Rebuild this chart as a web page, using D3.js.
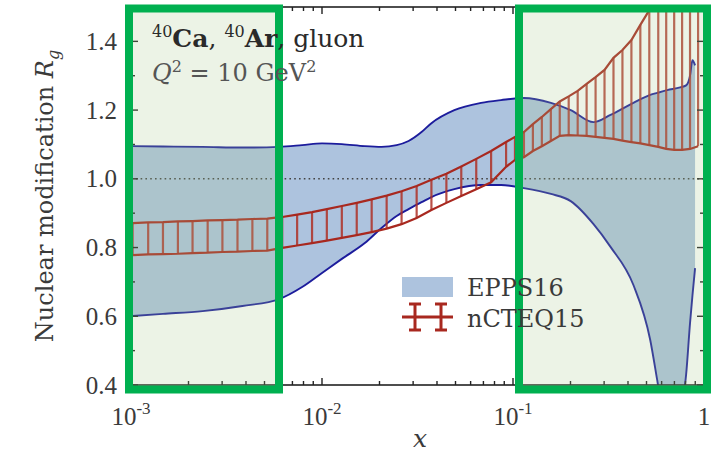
<!DOCTYPE html>
<html><head><meta charset="utf-8">
<script src="https://cdn.jsdelivr.net/npm/d3@7"></script>
<style>body{margin:0;background:#fff}svg{display:block}</style>
</head><body>
<svg id="c" width="720" height="456"></svg>
<script>
// ---- data ----
const xTickVals = [1e-3, 1e-2, 1e-1, 1];
const xTickBase = ["10", "10", "10", "1"];
const xTickExp = ["-3", "-2", "-1", ""];
const yTickVals = [0.4, 0.6, 0.8, 1.0, 1.2, 1.4];
const yTickLabels = ["0.4", "0.6", "0.8", "1.0", "1.2", "1.4"];

const eppsX  = [0.00102,0.00147,0.00237,0.00383,0.00597,0.00787,0.0100,0.0127,0.01675,0.0205,0.0246,0.0284,0.0332,0.0374,0.0493,0.0681,0.0866,0.114,0.158,0.2005,0.264,0.324,0.427,0.523,0.569,0.642,0.750,0.806,0.845,0.870,0.898];
const eppsUp = [1.095,1.094,1.093,1.091,1.093,1.098,1.103,1.101,1.095,1.093,1.098,1.110,1.136,1.162,1.200,1.221,1.229,1.235,1.221,1.200,1.165,1.186,1.221,1.244,1.250,1.258,1.266,1.272,1.300,1.345,1.330];
const eppsLo = [0.601,0.607,0.615,0.630,0.650,0.685,0.726,0.767,0.813,0.857,0.892,0.912,0.932,0.947,0.970,0.982,0.982,0.973,0.956,0.935,0.868,0.802,0.691,0.531,0.414,0.240,0.320,0.430,0.580,0.660,0.740];

const nctX  = [0.00102,0.00123,0.00147,0.00176,0.00210,0.00252,0.00301,0.00361,0.00432,0.00517,0.00619,0.00741,0.00887,0.0106,0.0127,0.0152,0.0182,0.0218,0.0261,0.0313,0.0374,0.0448,0.0536,0.0642,0.0768,0.0920,0.1024,0.1141,0.1271,0.1416,0.1578,0.1757,0.1957,0.2181,0.2429,0.2706,0.3014,0.3358,0.3741,0.4168,0.4642,0.5171,0.5761,0.634,0.698,0.768,0.845,0.931];
const nctUp = [0.871,0.873,0.874,0.876,0.877,0.879,0.880,0.881,0.883,0.884,0.889,0.896,0.903,0.912,0.921,0.930,0.940,0.951,0.964,0.979,0.997,1.015,1.036,1.058,1.081,1.107,1.122,1.136,1.159,1.180,1.203,1.225,1.240,1.256,1.276,1.296,1.317,1.352,1.375,1.404,1.448,1.491,1.526,1.555,1.584,1.614,1.643,1.672];
const nctLo = [0.778,0.780,0.781,0.782,0.784,0.785,0.787,0.788,0.790,0.791,0.799,0.806,0.813,0.820,0.828,0.836,0.845,0.855,0.868,0.886,0.909,0.930,0.950,0.970,0.990,1.035,1.055,1.063,1.081,1.095,1.110,1.125,1.127,1.126,1.125,1.122,1.119,1.116,1.111,1.107,1.103,1.098,1.093,1.087,1.084,1.084,1.087,1.095];

const seriesNames = ["EPPS16", "nCTEQ15"];
// highlight boxes (x ranges)
const boxRanges = [[1e-3, 6e-3], [1e-1, 1]];

// ---- layout ----
const L = 131, R = 704, T = 7, B = 385;
const svg = d3.select("#c");
const x = d3.scaleLog().domain([1e-3, 1]).range([L, R]);
const y = d3.scaleLinear().domain([0.4, 1.5]).range([B, T]);

const serif = "'DejaVu Serif', serif";
const numFont = "'Liberation Serif', serif";
const txtCol = "#3a3a3a";

svg.append("defs").append("clipPath").attr("id", "clip")
  .append("rect").attr("x", L).attr("y", T).attr("width", R - L).attr("height", B - T);
const plot = svg.append("g").attr("clip-path", "url(#clip)");

// EPPS16 band
const epps = eppsX.map((v, i) => ({x: v, lo: eppsLo[i], hi: eppsUp[i]}));
plot.append("path").datum(epps)
  .attr("d", d3.area().x(d => x(d.x)).y0(d => y(d.lo)).y1(d => y(d.hi)).curve(d3.curveMonotoneX))
  .attr("fill", "#adc3de");
["lo", "hi"].forEach(k => {
  plot.append("path").datum(epps)
    .attr("d", d3.line().x(d => x(d.x)).y(d => y(d[k])).curve(d3.curveMonotoneX))
    .attr("fill", "none").attr("stroke", "#1c1c9c").attr("stroke-width", 1.9);
});

// dotted line at 1
plot.append("line").attr("x1", L).attr("x2", R).attr("y1", y(1)).attr("y2", y(1))
  .attr("stroke", "#444").attr("stroke-width", 1.6).attr("stroke-dasharray", "1.6,3.2");

// nCTEQ15 hatched band (error bars)
const nct = nctX.map((v, i) => ({x: v, lo: nctLo[i], hi: nctUp[i]}));
plot.selectAll("line.eb").data(nct).enter().append("line").attr("class", "eb")
  .attr("x1", d => x(d.x)).attr("x2", d => x(d.x))
  .attr("y1", d => y(d.lo)).attr("y2", d => y(d.hi))
  .attr("stroke", "#ae3026").attr("stroke-opacity", 0.85).attr("stroke-width", 2.2);
["lo", "hi"].forEach(k => {
  plot.append("path").datum(nct)
    .attr("d", d3.line().x(d => x(d.x)).y(d => y(d[k])))
    .attr("fill", "none").attr("stroke", "#a8281f").attr("stroke-width", 2.2);
});

// frame
svg.append("rect").attr("x", L).attr("y", T).attr("width", R - L).attr("height", B - T)
  .attr("fill", "none").attr("stroke", "#222").attr("stroke-width", 1.6);

// ticks (inward, mirrored)
const tg = svg.append("g").attr("stroke", "#222").attr("stroke-width", 1.4);
const xMinor = [];
[1e-3, 1e-2, 1e-1].forEach(dec => { for (let k = 2; k <= 9; k++) xMinor.push(dec * k); });
xTickVals.forEach(v => {
  tg.append("line").attr("x1", x(v)).attr("x2", x(v)).attr("y1", B).attr("y2", B - 7);
  tg.append("line").attr("x1", x(v)).attr("x2", x(v)).attr("y1", T).attr("y2", T + 7);
});
xMinor.forEach(v => {
  tg.append("line").attr("x1", x(v)).attr("x2", x(v)).attr("y1", B).attr("y2", B - 4);
  tg.append("line").attr("x1", x(v)).attr("x2", x(v)).attr("y1", T).attr("y2", T + 4);
});
const yMinor = [0.5, 0.7, 0.9, 1.1, 1.3];
yTickVals.forEach(v => {
  tg.append("line").attr("x1", L).attr("x2", L + 7).attr("y1", y(v)).attr("y2", y(v));
  tg.append("line").attr("x1", R).attr("x2", R - 7).attr("y1", y(v)).attr("y2", y(v));
});
yMinor.forEach(v => {
  tg.append("line").attr("x1", L).attr("x2", L + 4).attr("y1", y(v)).attr("y2", y(v));
  tg.append("line").attr("x1", R).attr("x2", R - 4).attr("y1", y(v)).attr("y2", y(v));
});

// highlight boxes
boxRanges.forEach((r, i) => {
  const x0 = i === 0 ? 129 : 519, x1 = i === 0 ? 279 : 707;
  svg.append("rect").attr("x", x0).attr("y", 8.5).attr("width", x1 - x0).attr("height", 381)
    .attr("fill", "rgb(170,200,142)").attr("fill-opacity", 0.22)
    .attr("stroke", "#00b050").attr("stroke-width", 8);
});

// tick labels
yTickVals.forEach((v, i) => {
  svg.append("text").attr("x", 117).attr("y", y(v) + 8.5).attr("text-anchor", "end")
    .attr("font-family", numFont).attr("font-size", 25).attr("fill", txtCol).text(yTickLabels[i]);
});
xTickVals.forEach((v, i) => {
  const t = svg.append("text").attr("x", x(v)).attr("y", 425).attr("text-anchor", "middle")
    .attr("font-family", numFont).attr("font-size", 25).attr("fill", txtCol);
  t.append("tspan").text(xTickBase[i]);
  if (xTickExp[i]) t.append("tspan").attr("dy", -11).attr("font-size", 17).text(xTickExp[i]);
});

// axis labels
svg.append("text").attr("x", 420).attr("y", 447).attr("text-anchor", "middle")
  .attr("font-family", serif).attr("font-style", "italic").attr("font-size", 25).attr("fill", txtCol).text("x");
const yl = svg.append("text").attr("transform", `translate(53,${(T + B) / 2}) rotate(-90)`)
  .attr("text-anchor", "middle").attr("font-family", serif).attr("font-size", 24).attr("fill", txtCol);
yl.append("tspan").text("Nuclear modification ");
yl.append("tspan").attr("font-style", "italic").text("R");
yl.append("tspan").attr("font-style", "italic").attr("font-size", 16).attr("dy", 6).text("g");

// annotation
const a1 = svg.append("text").attr("x", 152).attr("y", 47).attr("font-family", serif)
  .attr("font-size", 25).attr("fill", "#2a2a2a");
a1.append("tspan").attr("font-size", 16).attr("dy", -10).text("40");
a1.append("tspan").attr("font-weight", "bold").attr("dy", 10).text("Ca");
a1.append("tspan").text(", ");
a1.append("tspan").attr("font-size", 16).attr("dy", -10).text("40");
a1.append("tspan").attr("font-weight", "bold").attr("dy", 10).text("Ar");
a1.append("tspan").text(", gluon");

const a2 = svg.append("text").attr("x", 152).attr("y", 81).attr("font-family", serif)
  .attr("font-size", 24).attr("fill", "#555");
a2.append("tspan").attr("font-style", "italic").text("Q");
a2.append("tspan").attr("font-size", 16).attr("dy", -9).text("2");
a2.append("tspan").attr("dy", 9).text(" = 10 GeV");
a2.append("tspan").attr("font-size", 16).attr("dy", -9).text("2");

// legend
svg.append("rect").attr("x", 402).attr("y", 277).attr("width", 51).attr("height", 20).attr("fill", "#adc3de");
const lg = svg.append("g").attr("stroke", "#a8281f").attr("stroke-width", 3);
lg.append("line").attr("x1", 402).attr("x2", 453).attr("y1", 317).attr("y2", 317);
[415, 441].forEach(cx => {
  lg.append("line").attr("x1", cx).attr("x2", cx).attr("y1", 304).attr("y2", 330);
  lg.append("line").attr("x1", cx - 6).attr("x2", cx + 6).attr("y1", 304).attr("y2", 304);
  lg.append("line").attr("x1", cx - 6).attr("x2", cx + 6).attr("y1", 330).attr("y2", 330);
});
seriesNames.forEach((n, i) => {
  svg.append("text").attr("x", 467).attr("y", 296 + i * 31).attr("font-family", serif)
    .attr("font-size", 24).attr("fill", txtCol).text(n);
});
</script>
</body></html>
